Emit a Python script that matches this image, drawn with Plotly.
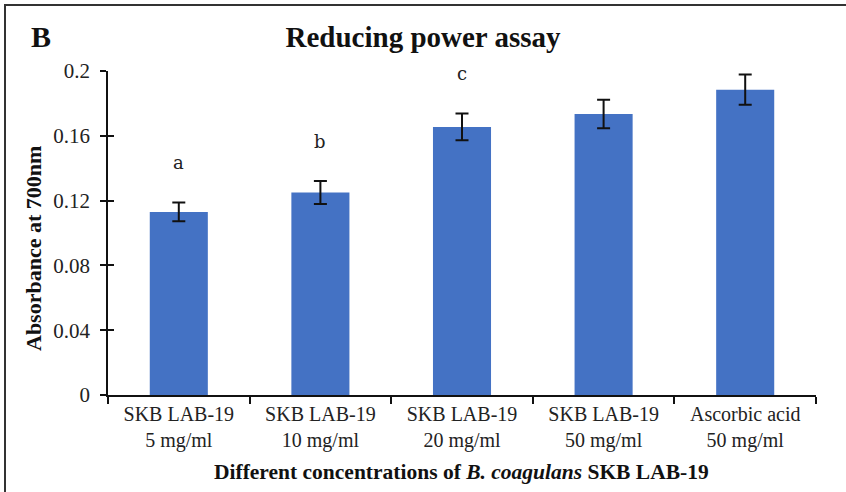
import plotly.graph_objects as go

# Reducing power assay: absorbance at 700 nm
categories = [
    "SKB LAB-19<br>5 mg/ml",
    "SKB LAB-19<br>10 mg/ml",
    "SKB LAB-19<br>20 mg/ml",
    "SKB LAB-19<br>50 mg/ml",
    "Ascorbic acid<br>50 mg/ml",
]
absorbance = [0.113, 0.125, 0.1655, 0.1735, 0.1885]
std_err = [0.0058, 0.0071, 0.0083, 0.0088, 0.0093]
group_letters = ["a", "b", "c", "", ""]
y_ticks = [0, 0.04, 0.08, 0.12, 0.16, 0.2]
y_tick_text = ["0", "0.04", "0.08", "0.12", "0.16", "0.2"]

W, H = 846, 492
M = dict(l=108, r=30, t=71, b=97)
PW = W - M["l"] - M["r"]
PH = H - M["t"] - M["b"]

SERIF = "Liberation Serif, Times New Roman, serif"
BAR_BLUE = "#4472C4"


def px_x(x):
    """Horizontal figure pixel -> paper fraction."""
    return (x - M["l"]) / PW


def px_y(y):
    """Vertical figure pixel (from top) -> paper fraction."""
    return (H - M["b"] - y) / PH


fig = go.Figure()
fig.add_trace(go.Bar(
    x=categories, y=absorbance,
    marker=dict(color=BAR_BLUE, line=dict(width=0)),
    error_y=dict(type="data", array=std_err, visible=True,
                 color="#111111", thickness=2, width=6.5),
    hoverinfo="x+y", showlegend=False,
))
# invisible companion trace that carries the inner half of the y ticks
fig.add_trace(go.Scatter(
    x=categories, y=absorbance, yaxis="y2", mode="markers",
    marker=dict(opacity=0), hoverinfo="skip", showlegend=False,
))

for cat, val, err, letter in zip(categories, absorbance, std_err, group_letters):
    if letter:
        fig.add_annotation(
            x=cat, y=val + err, text=letter, showarrow=False,
            yanchor="middle", yshift=40,
            font=dict(family="DejaVu Serif, serif", size=18, color="#222222"),
        )

# panel label
fig.add_annotation(
    xref="paper", yref="paper", x=px_x(41), y=px_y(37),
    text="<b>B</b>", showarrow=False, xanchor="center", yanchor="middle",
    font=dict(family=SERIF, size=30, color="#111111"),
)

# y-axis title
fig.add_annotation(
    xref="paper", yref="paper", x=px_x(33), y=px_y(249),
    text="<b>Absorbance at 700nm</b>", showarrow=False, textangle=-90,
    xanchor="center", yanchor="middle",
    font=dict(family=SERIF, size=22, color="#111111"),
)

# x-axis title
fig.add_annotation(
    xref="paper", yref="paper", x=px_x(461), y=px_y(472),
    text="<b>Different concentrations of <i>B. coagulans</i> SKB LAB-19</b>",
    showarrow=False, xanchor="center", yanchor="middle",
    font=dict(family=SERIF, size=21.5, color="#111111"),
)

# outer frame of the panel
fig.add_shape(
    type="rect", xref="paper", yref="paper",
    x0=px_x(5), x1=px_x(W + 10), y0=px_y(H + 10), y1=px_y(5),
    line=dict(color="#333333", width=2), fillcolor="rgba(0,0,0,0)",
    layer="below",
)

fig.update_layout(
    width=W, height=H,
    margin=M,
    paper_bgcolor="white", plot_bgcolor="white",
    bargap=0.59,
    title=dict(
        text="<b>Reducing power assay</b>",
        x=0.5, xanchor="center", y=1 - 37 / H, yanchor="middle",
        font=dict(family=SERIF, size=29, color="#111111"),
    ),
    font=dict(family=SERIF, color="#222222"),
    xaxis=dict(
        type="category",
        showline=True, linecolor="#111111", linewidth=1.5,
        ticks="outside", tickson="boundaries", ticklen=7,
        tickwidth=1.5, tickcolor="#111111",
        tickfont=dict(family=SERIF, size=20, color="#222222"),
        showgrid=False, zeroline=False,
    ),
    yaxis=dict(
        range=[0, 0.2],
        tickvals=y_ticks, ticktext=y_tick_text,
        showline=True, linecolor="#111111", linewidth=1.5,
        ticks="outside", ticklen=6, tickwidth=1.5, tickcolor="#111111",
        tickfont=dict(family=SERIF, size=21, color="#222222"),
        ticklabelstandoff=6,
        showgrid=False, zeroline=False,
    ),
    yaxis2=dict(
        range=[0, 0.2], overlaying="y", anchor="x", side="left",
        tickvals=y_ticks, showticklabels=False,
        ticks="inside", ticklen=6, tickwidth=1.5, tickcolor="#111111",
        showline=False, showgrid=False, zeroline=False,
    ),
)

fig.write_html("out.html")
